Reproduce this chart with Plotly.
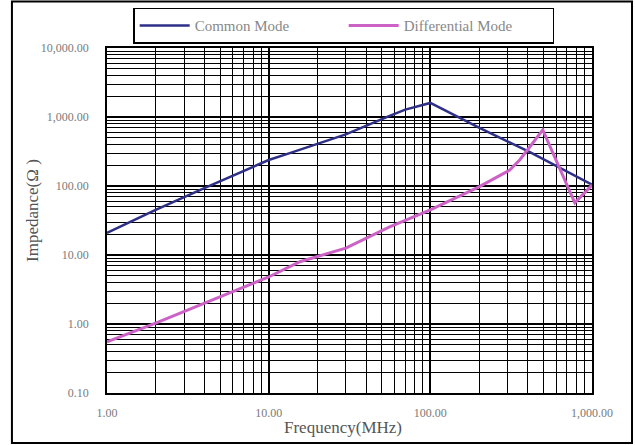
import plotly.graph_objects as go

# ---- data ----
freq_cm = [1, 2, 4, 10, 13.5, 30, 56, 70, 100, 200, 413, 635, 1000]
z_cm = [21, 45, 93, 238, 300, 560, 1040, 1280, 1600, 700, 310, 182, 105]

freq_dm = [1, 2, 10, 15.6, 30, 56, 100, 200, 310, 358, 413, 496, 783, 1000]
z_dm = [0.55, 1.03, 4.8, 8, 12.6, 25.6, 45, 97, 170, 240, 370, 650, 57, 103]

x_ticks = [1, 10, 100, 1000]
x_labels = ["1.00", "10.00", "100.00", "1,000.00"]
y_ticks = [0.1, 1, 10, 100, 1000, 10000]
y_labels = ["0.10", "1.00", "10.00", "100.00", "1,000.00", "10,000.00"]

SERIF = "Liberation Serif, Times New Roman, serif"

fig = go.Figure()
fig.add_trace(go.Scatter(x=freq_cm, y=z_cm, mode="lines", name="Common Mode",
                         line=dict(color="#2E2F86", width=2.5)))
fig.add_trace(go.Scatter(x=freq_dm, y=z_dm, mode="lines", name="Differential Mode",
                         line=dict(color="#CC62C6", width=3)))

axis_common = dict(
    type="log", showline=True, linecolor="black", linewidth=1.5, mirror=True,
    showgrid=True, gridcolor="black", gridwidth=2,
    minor=dict(dtick="D1", showgrid=True, gridcolor="black", gridwidth=1),
    tickfont=dict(family=SERIF, size=12, color="#7a7a7a"),
    ticks="", zeroline=False, automargin=False,
)

fig.update_xaxes(**axis_common, range=[0, 3], tickvals=x_ticks, ticktext=x_labels,
                 ticklabelstandoff=8)
fig.update_yaxes(**axis_common, range=[-1, 4], tickvals=y_ticks, ticktext=y_labels,
                 ticklabelstandoff=14)

# axis titles placed by hand (paper coords)
title_font = dict(family=SERIF, size=17, color="#555555")
fig.add_annotation(text="Frequency(MHz)", xref="paper", yref="paper",
                   x=0.487, y=-0.101, xanchor="center", yanchor="middle",
                   showarrow=False, font=title_font)
fig.add_annotation(text="Impedance(Ω )", xref="paper", yref="paper",
                   x=-0.155, y=0.53, xanchor="center", yanchor="middle",
                   textangle=-90, showarrow=False, font=title_font)

# outer frame around the whole picture
fig.add_shape(type="rect", xref="paper", yref="paper",
              x0=-0.196, x1=1.0825, y0=-0.145, y1=1.135,
              line=dict(color="black", width=2), layer="below")

fig.update_layout(
    width=635, height=445,
    margin=dict(l=107, r=43, t=48, b=52, autoexpand=False),
    paper_bgcolor="white", plot_bgcolor="white",
    showlegend=True,
    legend=dict(orientation="h", x=0.054, y=1.117, xanchor="left", yanchor="top",
                bordercolor="black", borderwidth=1.5,
                entrywidth=144, entrywidthmode="pixels", itemwidth=50,
                font=dict(family=SERIF, size=15, color="#888888")),
)

# drop the default page margin so the figure sits at the window's corner
fig.write_html("out.html", config={"displayModeBar": False},
               post_script="document.body.style.margin='0';")
